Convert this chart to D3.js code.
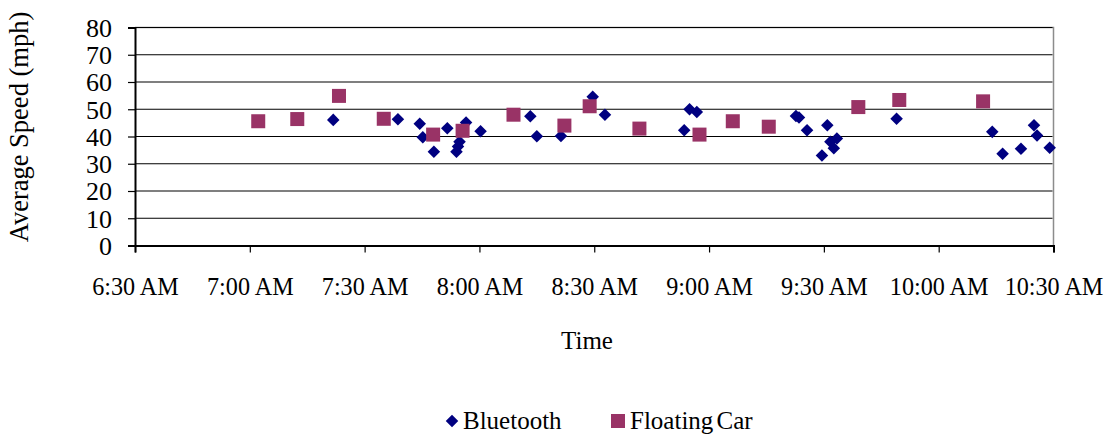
<!DOCTYPE html>
<html>
<head>
<meta charset="utf-8">
<script src="https://cdn.jsdelivr.net/npm/d3@7"></script>
<style>
  html, body { margin: 0; padding: 0; background: #fff; }
  svg { display: block; font-family: "Liberation Serif", "Times New Roman", serif; }
</style>
</head>
<body>
<svg id="chart" width="1111" height="437"></svg>
<script>
// Bluetooth travel-time readings (clock time, mph)
const btTimes = ["7:21:48","7:38:42","7:44:24","7:45:12","7:48:06","7:51:36","7:54:00","7:54:24","7:54:48","7:56:30",
  "8:00:18","8:13:18","8:15:00","8:21:18","8:29:36","8:32:48","8:53:30","8:54:54","8:56:48",
  "9:22:42","9:23:30","9:25:36","9:29:30","9:30:54","9:31:42","9:32:36","9:33:24","9:49:00",
  "10:14:00","10:16:42","10:21:30","10:24:54","10:25:42","10:29:00"];
const btSpeeds = [46.1,46.3,44.7,39.7,34.4,43.0,34.4,36.3,38.1,45.1,
  41.9,47.4,40.1,40.2,54.6,48.0,42.3,50.0,49.0,
  47.5,47.0,42.3,33.0,44.1,38.1,35.7,39.3,46.5,
  41.7,33.7,35.5,44.1,40.4,35.9];

// Floating car runs (clock time, mph)
const fcTimes = ["7:02:12","7:12:24","7:23:18","7:35:00","7:47:54","7:55:36","8:08:54","8:22:12","8:28:48",
  "8:41:48","8:57:30","9:06:12","9:15:36","9:39:00","9:49:42","10:11:36"];
const fcSpeeds = [45.6,46.4,54.9,46.5,40.7,42.1,48.0,44.0,51.1,
  42.9,40.7,45.6,43.6,50.8,53.4,52.9];

const xTickTimes = ["6:30","7:00","7:30","8:00","8:30","9:00","9:30","10:00","10:30"];
const yTicks = [0,10,20,30,40,50,60,70,80];

const parse = s => {
  const p = s.split(":").map(Number);
  return new Date(2000, 0, 1, p[0], p[1], p[2] || 0);
};
const fmt = d3.timeFormat("%-I:%M %p");

const svg = d3.select("#chart");
const plotL = 135, plotR = 1053.5, plotT = 27.5, plotB = 245.5;

const x = d3.scaleTime()
  .domain([parse("6:30"), parse("10:30")])
  .range([plotL, plotR]);
const y = d3.scaleLinear().domain([0, 80]).range([plotB, plotT]);

// plot area border (top/right)
svg.append("path")
  .attr("d", `M${plotL},${plotT}H${plotR}V${plotB}`)
  .attr("fill", "none").attr("stroke", "#8c8c8c").attr("stroke-width", 1.5);

// horizontal gridlines
svg.append("g")
  .selectAll("line")
  .data(yTicks.filter(v => v > 0))
  .join("line")
  .attr("x1", plotL).attr("x2", plotR - 1)
  .attr("y1", d => y(d)).attr("y2", d => y(d))
  .attr("stroke", "#000").attr("stroke-width", 1.2);

// y axis
const yAxis = svg.append("g")
  .attr("transform", `translate(${plotL},0)`)
  .call(d3.axisLeft(y).tickValues(yTicks).tickSize(7).tickPadding(16));
yAxis.select(".domain").attr("stroke", "#000").attr("stroke-width", 2);
yAxis.selectAll(".tick line").attr("stroke", "#000").attr("stroke-width", 1.2);
yAxis.selectAll(".tick text")
  .attr("font-family", "Liberation Serif, serif")
  .attr("font-size", 26).attr("fill", "#000")
  .attr("dy", "0.34em");

// x axis
const xAxis = svg.append("g")
  .attr("transform", `translate(0,${plotB})`)
  .call(d3.axisBottom(x).tickValues(xTickTimes.map(parse)).tickFormat(fmt).tickSize(7).tickPadding(0));
xAxis.select(".domain").attr("stroke", "#000").attr("stroke-width", 2);
xAxis.selectAll(".tick line").attr("stroke", "#000").attr("stroke-width", 1.2);
xAxis.selectAll(".tick text")
  .attr("font-family", "Liberation Serif, serif")
  .attr("font-size", 26).attr("fill", "#000")
  .attr("y", 0).attr("dy", 0)
  .attr("transform", "translate(0,49) scale(0.93,1)");

// axis titles
svg.append("text")
  .attr("transform", "translate(28,127) rotate(-90)")
  .attr("text-anchor", "middle")
  .attr("font-size", 26.5)
  .text("Average Speed (mph)");

svg.append("text")
  .attr("x", 587).attr("y", 349)
  .attr("text-anchor", "middle")
  .attr("font-size", 25)
  .text("Time");

// markers
const diamond = d3.symbol().type(d3.symbolDiamond2).size(100);
const bt = btTimes.map((t, i) => ({ t: parse(t), v: btSpeeds[i] }));
const fc = fcTimes.map((t, i) => ({ t: parse(t), v: fcSpeeds[i] }));

svg.append("g")
  .selectAll("path")
  .data(bt)
  .join("path")
  .attr("d", diamond)
  .attr("transform", d => `translate(${x(d.t)},${y(d.v)})`)
  .attr("fill", "#000080");

const sq = 14;
svg.append("g")
  .selectAll("rect")
  .data(fc)
  .join("rect")
  .attr("x", d => x(d.t) - sq / 2)
  .attr("y", d => y(d.v) - sq / 2)
  .attr("width", sq).attr("height", sq)
  .attr("fill", "#993366");

// legend
const lg = svg.append("g").attr("font-size", 25);
lg.append("path")
  .attr("d", diamond)
  .attr("transform", "translate(452,421)")
  .attr("fill", "#000080");
lg.append("text").attr("x", 463).attr("y", 429).text("Bluetooth");
lg.append("rect")
  .attr("x", 611).attr("y", 414).attr("width", sq).attr("height", sq)
  .attr("fill", "#993366");
lg.append("text").attr("x", 630).attr("y", 429).attr("word-spacing", "-3").text("Floating Car");
</script>
</body>
</html>
